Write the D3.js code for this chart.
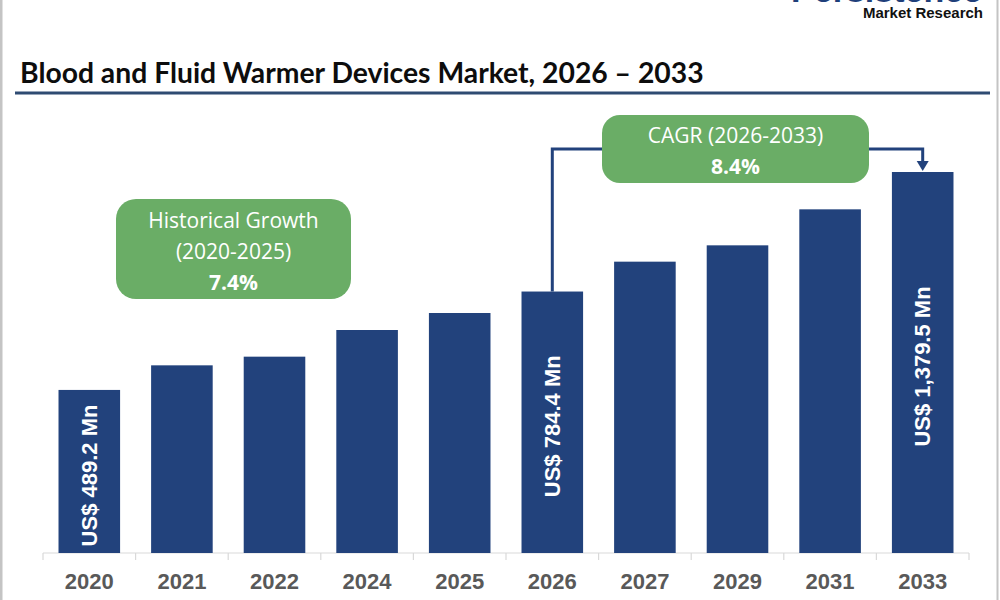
<!DOCTYPE html>
<html>
<head>
<meta charset="utf-8">
<script src="https://cdn.jsdelivr.net/npm/d3@7"></script>
<style>
  body { margin: 0; background: #fff; }
  svg { display: block; }
</style>
</head>
<body>
<div id="chart"></div>
<script>
var svgWidth = 1000;
var svgHeight = 600;

// Data (bar heights in US$ Mn)
var years = ["2020", "2021", "2022", "2024", "2025", "2026", "2027", "2029", "2031", "2033"];
var marketValues = [489.2, 563, 589, 669, 720, 784.4, 874, 923, 1031, 1143];
var barLabels = ["US$ 489.2 Mn", "", "", "", "", "US$ 784.4 Mn", "", "", "", "US$ 1,379.5 Mn"];
var historicalText = ["Historical Growth", "(2020-2025)", "7.4%"];
var cagrText = ["CAGR (2026-2033)", "8.4%"];

var barColor = "#22427c";
var boxColor = "#6aad66";

var svg = d3.select("#chart")
  .append("svg")
  .attr("width", svgWidth)
  .attr("height", svgHeight);

// frame lines on left and right
svg.append("rect").attr("x", 0).attr("y", 0).attr("width", 2.5).attr("height", svgHeight).attr("fill", "#c4c4c4");
svg.append("rect").attr("x", 996.5).attr("y", 0).attr("width", 2).attr("height", svgHeight).attr("fill", "#c4c4c4");

// logo, cut off at the top
svg.append("text")
  .attr("x", 982)
  .attr("y", 2)
  .attr("text-anchor", "end")
  .style("font-family", "Liberation Sans, Arial, sans-serif")
  .style("font-weight", "bold")
  .style("font-size", "34px")
  .attr("fill", "#1f3f7a")
  .text("Persistence");

svg.append("text")
  .attr("x", 983)
  .attr("y", 18)
  .attr("text-anchor", "end")
  .style("font-family", "Liberation Sans, Arial, sans-serif")
  .style("font-weight", "bold")
  .style("font-size", "15px")
  .attr("fill", "#111")
  .text("Market Research");

// Title
var title = svg.append("text")
  .attr("x", 20)
  .attr("y", 83)
  .style("font-family", "Lato, 'Open Sans', sans-serif")
  .style("font-weight", "bold")
  .style("font-size", "28px")
  .attr("fill", "#0d0d0d")
  .text("Blood and Fluid Warmer Devices Market, 2026 \u2013 2033");

var tw = title.node().getComputedTextLength();
title.style("font-size", (28 * 684 / tw) + "px");

svg.append("rect")
  .attr("x", 15)
  .attr("y", 91.5)
  .attr("width", 975)
  .attr("height", 3)
  .attr("fill", "#2e4b72");

// Scales
var xScale = d3.scaleBand()
  .domain(years)
  .range([43, 969])
  .paddingInner(0.335)
  .paddingOuter(0.1675);

var yScale = d3.scaleLinear()
  .domain([0, 1200])
  .range([553, 153]);

// Axis
var axisG = svg.append("g")
  .attr("transform", "translate(0, 553)");

axisG.append("line")
  .attr("x1", 43).attr("x2", 969)
  .attr("y1", 0).attr("y2", 0)
  .attr("stroke", "#d9d9d9")
  .attr("stroke-width", 1.2);

var bounds = years.map(function(d) { return xScale(d) - xScale.step() * xScale.paddingInner() / 2; });
bounds.push(969);

axisG.selectAll(".tick-mark")
  .data(bounds)
  .enter()
  .append("line")
  .attr("x1", d => d).attr("x2", d => d)
  .attr("y1", 0).attr("y2", 7)
  .attr("stroke", "#d9d9d9")
  .attr("stroke-width", 1.2);

axisG.selectAll(".tick-label")
  .data(years)
  .enter()
  .append("text")
  .attr("x", d => xScale(d) + xScale.bandwidth() / 2)
  .attr("y", 36)
  .attr("text-anchor", "middle")
  .style("font-family", "Liberation Sans, Arial, sans-serif")
  .style("font-weight", "bold")
  .style("font-size", "22px")
  .attr("fill", "#595959")
  .text(d => d);

// Bars
var bars = years.map(function(y, i) {
  return { year: y, value: marketValues[i], label: barLabels[i] };
});

svg.selectAll(".bar")
  .data(bars)
  .enter()
  .append("rect")
  .attr("class", "bar")
  .attr("x", d => xScale(d.year))
  .attr("y", d => yScale(d.value))
  .attr("width", xScale.bandwidth())
  .attr("height", d => yScale(0) - yScale(d.value))
  .attr("fill", barColor);

// Value labels inside bars
svg.selectAll(".bar-label")
  .data(bars.filter(d => d.label !== ""))
  .enter()
  .append("text")
  .attr("transform", function(d) {
    var cx = xScale(d.year) + xScale.bandwidth() / 2;
    var cy = (yScale(d.value) + yScale(0)) / 2 + 4;
    return "translate(" + cx + "," + cy + ") rotate(-90)";
  })
  .attr("text-anchor", "middle")
  .attr("dy", "0.35em")
  .style("font-family", "Liberation Sans, Arial, sans-serif")
  .style("font-weight", "bold")
  .style("font-size", "22px")
  .attr("fill", "#ffffff")
  .text(d => d.label);

// Historical growth box
svg.append("rect")
  .attr("x", 116)
  .attr("y", 199)
  .attr("width", 235)
  .attr("height", 100)
  .attr("rx", 20)
  .attr("fill", boxColor);

svg.append("g")
  .selectAll("text")
  .data(historicalText)
  .enter()
  .append("text")
  .attr("x", 233.5)
  .attr("y", (d, i) => 228 + i * 31)
  .attr("text-anchor", "middle")
  .style("font-family", "'Open Sans', Lato, sans-serif")
  .style("font-weight", (d, i) => i === 2 ? "bold" : "normal")
  .style("font-size", "21px")
  .attr("fill", "#ffffff")
  .text(d => d);

// CAGR connector
var x2026 = xScale("2026") + xScale.bandwidth() / 2;
var x2033 = xScale("2033") + xScale.bandwidth() / 2;
var lineY = 149;

svg.append("path")
  .attr("d", "M" + x2026 + "," + yScale(marketValues[5]) + " V" + lineY + " H" + 610)
  .attr("fill", "none")
  .attr("stroke", barColor)
  .attr("stroke-width", 3);

svg.append("path")
  .attr("d", "M" + 860 + "," + lineY + " H" + x2033 + " V" + (yScale(marketValues[9]) - 10))
  .attr("fill", "none")
  .attr("stroke", barColor)
  .attr("stroke-width", 3);

svg.append("path")
  .attr("d", "M" + (x2033 - 6) + "," + (yScale(marketValues[9]) - 11) +
             " L" + (x2033 + 6) + "," + (yScale(marketValues[9]) - 11) +
             " L" + x2033 + "," + (yScale(marketValues[9]) - 1) + " Z")
  .attr("fill", barColor);

svg.append("rect")
  .attr("x", 602)
  .attr("y", 115)
  .attr("width", 267)
  .attr("height", 68)
  .attr("rx", 18)
  .attr("fill", boxColor);

svg.append("g")
  .selectAll("text")
  .data(cagrText)
  .enter()
  .append("text")
  .attr("x", 735.5)
  .attr("y", (d, i) => 143 + i * 31)
  .attr("text-anchor", "middle")
  .style("font-family", "'Open Sans', Lato, sans-serif")
  .style("font-weight", (d, i) => i === 1 ? "bold" : "normal")
  .style("font-size", "21px")
  .attr("fill", "#ffffff")
  .text(d => d);
</script>
</body>
</html>
